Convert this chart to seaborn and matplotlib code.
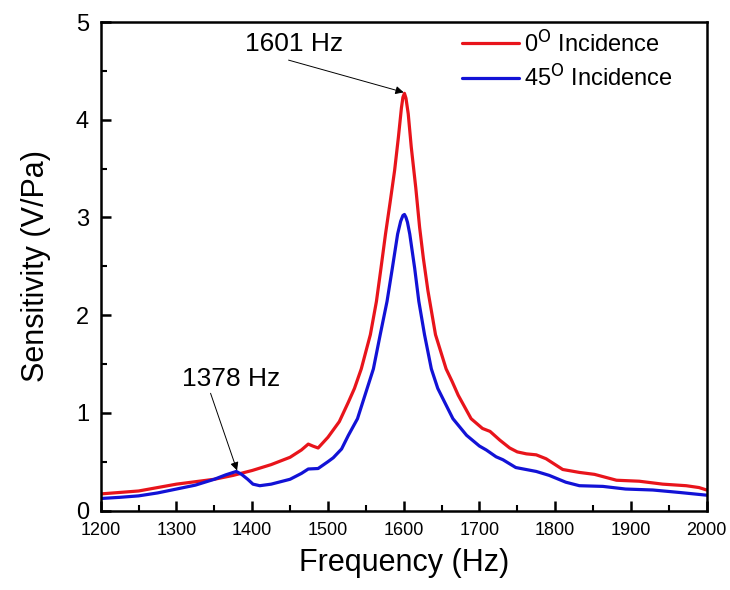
import numpy as np
import pandas as pd
import matplotlib
matplotlib.use("Agg")
import matplotlib.pyplot as plt
import seaborn as sns

# ---- data ----
freq_0 = [1200, 1225, 1250, 1275, 1300, 1325, 1350, 1375, 1400, 1425, 1450, 1465, 1474,
          1480, 1487, 1500, 1515, 1527, 1535, 1544, 1556, 1564, 1570, 1576, 1582, 1588,
          1593, 1597, 1599, 1601, 1603, 1606, 1610, 1616, 1621, 1626, 1632, 1642, 1656,
          1664, 1672, 1689, 1704, 1714, 1727, 1740, 1750, 1762, 1775, 1788, 1800, 1810,
          1832, 1852, 1881, 1911, 1942, 1973, 1990, 2000]
sens_0 = [0.17, 0.185, 0.20, 0.235, 0.27, 0.295, 0.32, 0.36, 0.41, 0.47, 0.545, 0.62, 0.68,
          0.66, 0.64, 0.75, 0.91, 1.11, 1.25, 1.45, 1.80, 2.14, 2.48, 2.83, 3.15, 3.48,
          3.82, 4.12, 4.23, 4.27, 4.22, 4.06, 3.72, 3.30, 2.90, 2.58, 2.25, 1.80, 1.45,
          1.32, 1.18, 0.94, 0.84, 0.81, 0.72, 0.64, 0.60, 0.58, 0.57, 0.53, 0.47, 0.42,
          0.39, 0.37, 0.31, 0.30, 0.27, 0.254, 0.235, 0.21]

freq_45 = [1200, 1225, 1250, 1275, 1300, 1325, 1350, 1365, 1379, 1386, 1394, 1401, 1410,
           1425, 1450, 1465, 1474, 1487, 1500, 1507, 1518, 1527, 1539, 1546, 1560, 1569,
           1578, 1585, 1592, 1596, 1599, 1601, 1603, 1605, 1608, 1614.5, 1620, 1627.5,
           1636.5, 1645, 1654, 1665, 1683, 1700, 1709, 1722, 1731, 1748, 1775, 1792, 1814,
           1832, 1863, 1893, 1929, 1964, 2000]
sens_45 = [0.123, 0.135, 0.15, 0.18, 0.22, 0.26, 0.32, 0.365, 0.40, 0.37, 0.32, 0.27, 0.254,
           0.27, 0.32, 0.38, 0.425, 0.43, 0.50, 0.54, 0.63, 0.77, 0.94, 1.11, 1.45, 1.80,
           2.14, 2.48, 2.83, 2.96, 3.02, 3.03, 3.00, 2.95, 2.83, 2.48, 2.14, 1.80,
           1.45, 1.25, 1.11, 0.94, 0.77, 0.66, 0.62, 0.55, 0.52, 0.44, 0.40, 0.36, 0.29,
           0.254, 0.247, 0.22, 0.21, 0.185, 0.157]

labels = ["0$^{\\mathrm{O}}$ Incidence", "45$^{\\mathrm{O}}$ Incidence"]
colors = ["#E8141B", "#1212D6"]
x_ticks = [1200, 1300, 1400, 1500, 1600, 1700, 1800, 1900, 2000]
x_minor = [1250, 1350, 1450, 1550, 1650, 1750, 1850, 1950]
y_ticks = [0, 1, 2, 3, 4, 5]
y_minor = [0.5, 1.5, 2.5, 3.5, 4.5]

# ---- style ----
sns.set_style("ticks")
plt.rcParams["font.family"] = ["Liberation Sans", "DejaVu Sans"]
plt.rcParams["mathtext.default"] = "regular"
for k in ["text.color", "axes.labelcolor", "xtick.color", "ytick.color", "axes.edgecolor"]:
    plt.rcParams[k] = "black"

fig = plt.figure(figsize=(7.3, 5.9), dpi=100)
ax = fig.add_axes([0.138, 0.1347, 0.830, 0.828])

df0 = pd.DataFrame({"Frequency": freq_0, "Sensitivity": sens_0})
df45 = pd.DataFrame({"Frequency": freq_45, "Sensitivity": sens_45})
sns.lineplot(data=df0, x="Frequency", y="Sensitivity", ax=ax, color=colors[0],
             lw=2.3, label=labels[0], solid_joinstyle="round")
sns.lineplot(data=df45, x="Frequency", y="Sensitivity", ax=ax, color=colors[1],
             lw=2.3, label=labels[1], solid_joinstyle="round")

ax.set_xlim(1200, 2000)
ax.set_ylim(0, 5)
ax.set_xticks(x_ticks)
ax.set_yticks(y_ticks)
ax.set_xticks(x_minor, minor=True)
ax.set_yticks(y_minor, minor=True)
ax.tick_params(axis="both", which="major", direction="in", length=7, width=1.8)
ax.tick_params(axis="both", which="minor", direction="in", length=4, width=1.5)
ax.tick_params(axis="x", labelsize=13, pad=8.5)
ax.tick_params(axis="y", labelsize=17, pad=8.5)
for s in ax.spines.values():
    s.set_linewidth(1.8)
    s.set_visible(True)
    s.set_color("black")

ax.set_xlabel("Frequency (Hz)", fontsize=22, labelpad=6)
ax.set_ylabel("Sensitivity (V/Pa)", fontsize=22, labelpad=18)

leg = ax.legend(loc="upper left", bbox_to_anchor=(0.597, 0.984), frameon=False,
                fontsize=17, handlelength=2.4, handletextpad=0.2, labelspacing=0.35,
                borderpad=0, borderaxespad=0)

ax.text(1455, 4.77, "1601 Hz", fontsize=19, ha="center", va="center")
ax.annotate("", xy=(1600, 4.28), xytext=(1448, 4.61),
            arrowprops=dict(arrowstyle="-|>", color="black", lw=0.7,
                            mutation_scale=12, shrinkA=0, shrinkB=0))
ax.text(1372, 1.35, "1378 Hz", fontsize=19, ha="center", va="center")
ax.annotate("", xy=(1380, 0.41), xytext=(1345, 1.20),
            arrowprops=dict(arrowstyle="-|>", color="black", lw=0.7,
                            mutation_scale=12, shrinkA=0, shrinkB=0))

fig.savefig("out.png", dpi=100)
